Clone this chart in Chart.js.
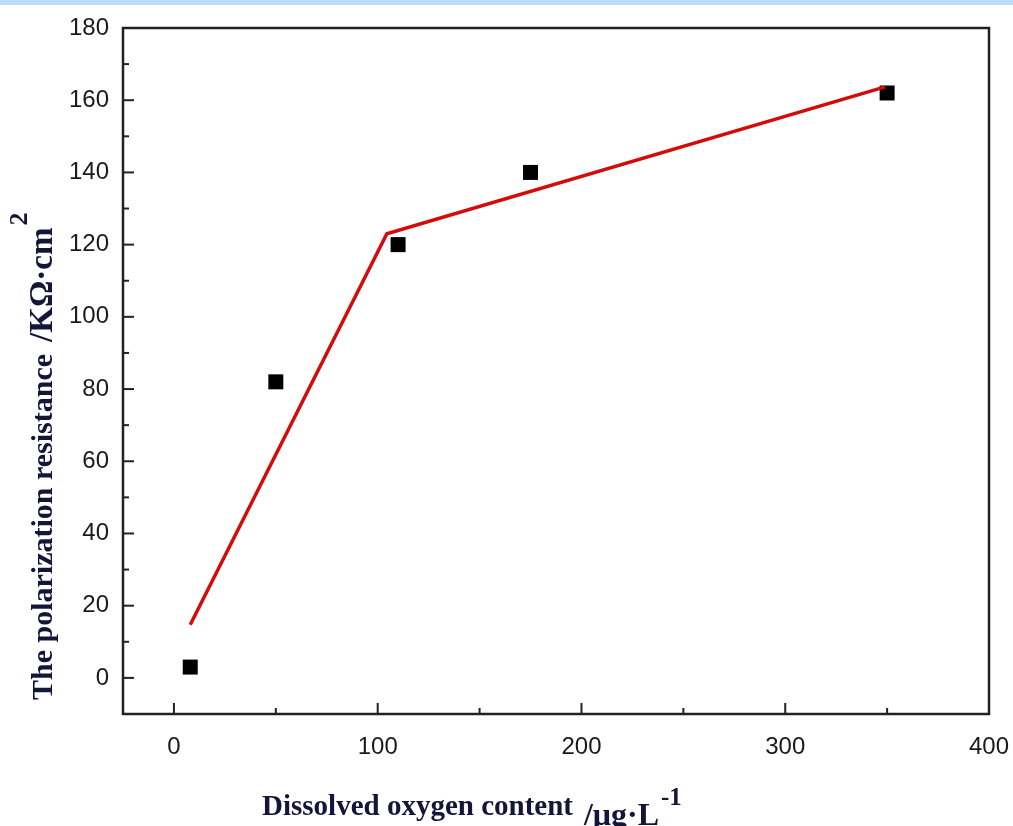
<!DOCTYPE html>
<html>
<head>
<meta charset="utf-8">
<script src="https://cdn.jsdelivr.net/npm/chart.js@4/dist/chart.umd.min.js"></script>
<style>
  html, body { margin: 0; padding: 0; background: #fff; }
  #wrap { width: 1013px; height: 826px; position: relative; }
</style>
</head>
<body>
<div id="wrap"><canvas id="grafico"></canvas></div>
<script>
// dados
const oxigenio = [8, 50, 110, 175, 350];          // µg/L
const resistencia = [3, 82, 120, 140, 162];       // KΩ·cm²
const linhaX = [8, 104.5, 349];                   // ajuste em dois trechos
const linhaY = [14.7, 123, 163.7];
const ticksX = [0, 100, 200, 300, 400];
const ticksY = [0, 20, 40, 60, 80, 100, 120, 140, 160, 180];
const menoresX = [50, 150, 250, 350];
const menoresY = [10, 30, 50, 70, 90, 110, 130, 150, 170];

const corEixo = "#222";
const corTitulo = "#15153a";
const serifa = "'Liberation Serif', 'DejaVu Serif', serif";

// faixa azul no topo, moldura e ticks para dentro
const molduraPlugin = {
  id: "moldura",
  beforeDraw(chart) {
    const ctx = chart.ctx;
    ctx.save();
    ctx.fillStyle = "#bddcfb";
    ctx.fillRect(0, 0, chart.width, 5);
    ctx.restore();
  },
  afterDraw(chart) {
    const { ctx, chartArea: a, scales } = chart;
    ctx.save();
    ctx.strokeStyle = corEixo;
    ctx.lineWidth = 2.5;
    ctx.strokeRect(a.left, a.top, a.right - a.left, a.bottom - a.top);

    ctx.lineWidth = 2;
    const tickX = (v, len) => {
      const px = scales.x.getPixelForValue(v);
      ctx.beginPath();
      ctx.moveTo(px, a.bottom);
      ctx.lineTo(px, a.bottom - len);
      ctx.stroke();
    };
    const tickY = (v, len) => {
      const py = scales.y.getPixelForValue(v);
      ctx.beginPath();
      ctx.moveTo(a.left, py);
      ctx.lineTo(a.left + len, py);
      ctx.stroke();
    };
    ticksX.forEach(v => tickX(v, 11));
    menoresX.forEach(v => tickX(v, 6));
    ticksY.forEach(v => tickY(v, 11));
    menoresY.forEach(v => tickY(v, 6));

    // títulos dos eixos (com sobrescritos)
    ctx.fillStyle = corTitulo;
    ctx.textBaseline = "alphabetic";
    ctx.textAlign = "left";

    let x = 262;
    ctx.font = "bold 29px " + serifa;
    ctx.fillText("Dissolved oxygen content", x, 815);
    x += ctx.measureText("Dissolved oxygen content").width + 11;
    ctx.font = "bold 32px " + serifa;
    ctx.fillText("/\u03bcg\u00b7L", x, 825);
    x += ctx.measureText("/\u03bcg\u00b7L").width + 2;
    ctx.font = "bold 25px " + serifa;
    ctx.fillText("-1", x, 805);

    ctx.translate(52, 700);
    ctx.rotate(-Math.PI / 2);
    let y = 0;
    ctx.font = "bold 30px " + serifa;
    ctx.fillText("The polarization resistance", y, 0);
    y += ctx.measureText("The polarization resistance").width + 12;
    ctx.font = "bold 33px " + serifa;
    ctx.fillText("/K\u03a9\u00b7cm", y, 0);
    y += ctx.measureText("/K\u03a9\u00b7cm").width + 2;
    ctx.font = "bold 26px " + serifa;
    ctx.fillText("2", y, -25);
    ctx.restore();
  }
};

new Chart(document.getElementById("grafico"), {
  type: "scatter",
  data: {
    datasets: [
      {
        label: "ajuste",
        data: linhaX.map((v, i) => ({ x: v, y: linhaY[i] })),
        showLine: true,
        borderColor: "#d40b0b",
        borderWidth: 3.5,
        pointRadius: 0,
        tension: 0
      },
      {
        label: "medido",
        data: oxigenio.map((v, i) => ({ x: v, y: resistencia[i] })),
        pointStyle: "rect",
        pointRadius: 10.6,
        pointBorderWidth: 0,
        backgroundColor: "#000",
        borderColor: "#000"
      }
    ]
  },
  options: {
    responsive: true,
    maintainAspectRatio: false,
    animation: false,
    layout: { padding: { top: 28, right: 24, left: 0, bottom: 0 } },
    plugins: { legend: { display: false }, tooltip: { enabled: false } },
    scales: {
      x: {
        type: "linear",
        min: -25,
        max: 400,
        afterBuildTicks: s => { s.ticks = ticksX.map(v => ({ value: v })); },
        afterFit: s => { s.height = 112; s.paddingLeft = 0; s.paddingRight = 0; },
        grid: { display: false, drawTicks: false },
        border: { display: false },
        ticks: {
          padding: 19,
          color: "#1a1a1a",
          font: { family: "'Liberation Sans', Arial, sans-serif", size: 24 }
        }
      },
      y: {
        type: "linear",
        min: -10,
        max: 180,
        afterBuildTicks: s => { s.ticks = ticksY.map(v => ({ value: v })); },
        afterFit: s => { s.width = 123; s.paddingTop = 0; s.paddingBottom = 0; },
        grid: { display: false, drawTicks: false },
        border: { display: false },
        ticks: {
          padding: 14,
          color: "#1a1a1a",
          font: { family: "'Liberation Sans', Arial, sans-serif", size: 24 }
        }
      }
    }
  },
  plugins: [molduraPlugin]
});
</script>
</body>
</html>
